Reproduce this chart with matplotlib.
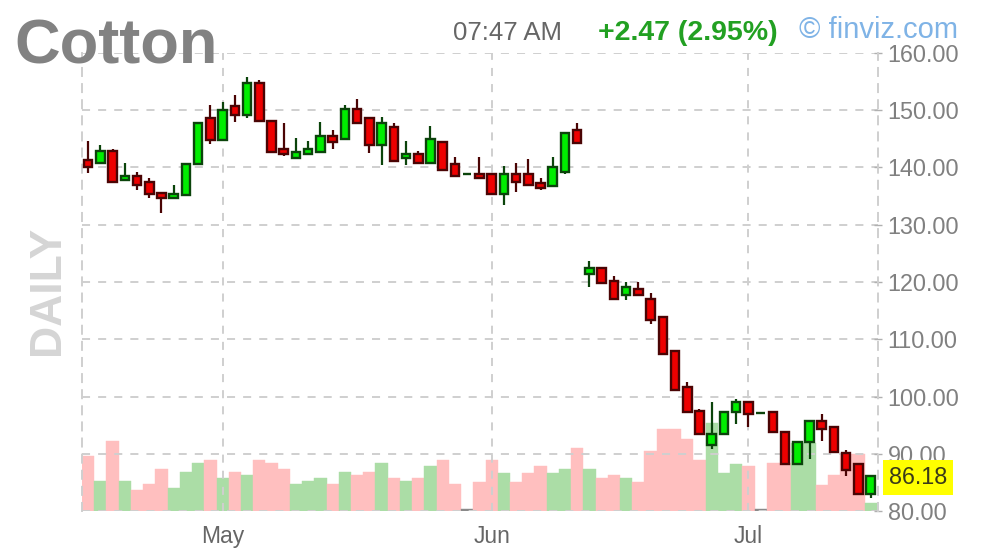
import matplotlib
matplotlib.use('Agg')
import matplotlib.pyplot as plt
from matplotlib.transforms import blended_transform_factory

plt.rcParams['font.family'] = ['Liberation Sans', 'DejaVu Sans']
plt.rcParams['lines.scale_dashes'] = False

# ---------------- data ----------------
title = 'Cotton'
period = 'DAILY'
time_label = '07:47 AM'
change_label = '+2.47 (2.95%)'
brand = '\u00a9 finviz.com'
last_price = 86.18

opens = [141.3, 140.7, 142.85, 137.8, 138.5, 137.5, 135.5, 134.6, 135.2, 140.6,
         148.7, 144.8, 150.8, 149.15, 154.7, 148.2, 143.3, 141.7, 142.3, 142.7,
         145.5, 144.9, 150.3, 148.6, 143.9, 147.1, 141.7, 142.3, 140.7, 144.5,
         140.6, 138.85, 138.95, 138.95, 135.45, 138.95, 138.95, 137.3, 136.7, 139.2,
         146.5, 121.35, 122.5, 120.2, 117.7, 118.7, 117.1, 113.9, 107.9, 101.6,
         97.4, 91.45, 93.5, 97.3, 99.0, 97.15, 97.3, 93.8, 88.25, 92.0,
         95.8, 94.65, 90.1, 88.25, 83.0]
highs = [144.6, 144.0, 143.2, 140.8, 139.2, 138.2, 135.8, 137.0, 140.6, 147.7,
         151.0, 151.5, 152.6, 155.8, 155.3, 148.2, 147.8, 145.1, 144.65, 147.9,
         146.6, 151.0, 152.05, 148.6, 148.85, 147.7, 144.6, 142.85, 147.2, 144.5,
         141.85, 138.85, 141.85, 138.95, 140.2, 140.8, 141.4, 138.1, 141.85, 146.05,
         147.7, 123.7, 122.5, 121.0, 120.0, 120.0, 118.0, 113.9, 107.9, 102.5,
         97.9, 99.0, 97.3, 99.6, 99.0, 97.15, 97.3, 93.8, 92.0, 95.8,
         97.0, 94.65, 90.6, 88.25, 86.18]
lows = [139.0, 140.7, 137.5, 137.8, 136.15, 134.6, 132.0, 134.6, 135.2, 140.6,
        144.1, 144.8, 148.0, 148.6, 148.2, 142.7, 142.0, 141.7, 142.3, 142.7,
        143.15, 144.9, 147.7, 142.55, 140.4, 141.1, 140.4, 140.7, 140.7, 139.5,
        138.5, 138.85, 138.1, 135.45, 133.4, 135.7, 136.9, 136.0, 136.7, 138.8,
        144.3, 119.1, 119.8, 117.1, 116.9, 117.7, 112.6, 107.4, 101.1, 97.3,
        93.5, 90.8, 93.5, 95.2, 94.65, 97.15, 93.8, 88.25, 88.25, 89.1,
        92.3, 90.3, 86.2, 83.0, 82.3]
closes = [140.05, 142.85, 137.5, 138.5, 136.9, 135.45, 134.6, 135.3, 140.6, 147.7,
          144.8, 150.1, 149.15, 154.7, 148.2, 142.7, 142.3, 142.7, 143.2, 145.5,
          144.5, 150.3, 147.7, 143.9, 147.7, 141.1, 142.3, 140.7, 144.9, 139.5,
          138.5, 138.85, 138.1, 135.45, 138.95, 137.5, 136.9, 136.5, 140.1, 146.05,
          144.3, 122.5, 119.8, 117.1, 119.1, 117.7, 113.3, 107.4, 101.1, 97.3,
          93.5, 93.5, 97.3, 99.0, 97.0, 97.15, 93.8, 88.25, 92.0, 95.8,
          94.4, 90.3, 87.1, 83.0, 86.18]
# relative volume (arbitrary units)
volume = [55, 30, 70, 30, 21, 27, 42, 23, 39, 48,
          51, 33, 39, 36, 51, 48, 42, 27, 30, 33,
          27, 39, 36, 39, 48, 33, 30, 33, 45, 51,
          27, 2, 29, 51, 38, 29, 38, 45, 38, 42,
          63, 42, 33, 36, 33, 29, 60, 82, 82, 72,
          51, 88, 38, 47, 45, 2, 48, 48, 68, 68,
          26, 36, 57, 57, 8]
month_ticks = [11, 33, 54]
month_labels = ['May', 'Jun', 'Jul']
price_ticks = [80, 90, 100, 110, 120, 130, 140, 150, 160]

# ---------------- figure ----------------
W, H = 997, 556
fig = plt.figure(figsize=(W / 100, H / 100), dpi=100)


def fx(px):
    return px / W


def fy(py):
    return 1 - py / H


ax = fig.add_axes([fx(82), fy(511), fx(878) - fx(82), fy(53) - fy(511)])
vax = ax.twinx()
ax.set_zorder(vax.get_zorder() + 1)
ax.patch.set_visible(False)

n = len(closes)
xs = list(range(n))

# volume bars
vcols = []
for o, c in zip(opens, closes):
    if c > o:
        vcols.append('#abdda6')
    elif c < o:
        vcols.append('#ffbfbf')
    else:
        vcols.append('#8a8a8a')
vax.bar(xs, volume, width=1.0, color=vcols, edgecolor=vcols, linewidth=0.3)
vax.set_ylim(0, 458)
vax.set_yticks([])
for s in vax.spines.values():
    s.set_visible(False)

# candles
for i in xs:
    o, h, l, c = opens[i], highs[i], lows[i], closes[i]
    if c >= o:
        fill, edge = '#00ee00', '#0b440b'
    else:
        fill, edge = '#ee0000', '#4a0404'
    ax.vlines(i, l, h, color=edge, linewidth=1.6, zorder=3)
    ax.bar(i, abs(c - o), bottom=min(o, c), width=0.7, color=fill,
           edgecolor=edge, linewidth=1.7, zorder=4)

ax.set_xlim(-0.5, 64.6)
ax.set_ylim(80, 160)

# grid
ax.set_yticks(price_ticks)
ax.set_yticklabels([f'{v:.2f}' for v in price_ticks])
ax.set_xticks(month_ticks)
ax.set_xticklabels(month_labels)
ax.grid(True, color='#cfcfcf', linestyle=(0, (5.8, 5.8)), linewidth=1.4, zorder=1)
ax.set_axisbelow(True)

for side in ['top', 'bottom']:
    ax.spines[side].set_visible(False)
for side in ['left', 'right']:
    ax.spines[side].set_linestyle((0, (5.8, 5.8)))
    ax.spines[side].set_color('#cfcfcf')
    ax.spines[side].set_linewidth(1.4)

ax.yaxis.tick_right()
ax.tick_params(axis='y', direction='inout', length=6, width=1, color='#b0b0b0',
               pad=4, labelsize=16.8, labelcolor='#808080')
ax.tick_params(axis='x', length=0, pad=10, labelsize=16.5, labelcolor='#666666')

# last price box
trans = blended_transform_factory(ax.transAxes, ax.transData)
ax.text(1.0135, last_price - 0.3, f'{last_price:.2f}', transform=trans, fontsize=16.8,
        color='#3a3a1a', va='center', ha='left', zorder=6, clip_on=False,
        bbox=dict(boxstyle='square,pad=0.25', facecolor='#ffff00', edgecolor='none'))

# header texts
fig.text(fx(14), fy(63), title, fontsize=45.5, fontweight='bold', color='#828282',
         ha='left', va='baseline')
fig.text(fx(453), fy(40), time_label, fontsize=18.5, color='#666666',
         ha='left', va='baseline')
fig.text(fx(598), fy(40), change_label, fontsize=20.5, fontweight='bold', color='#22a022',
         ha='left', va='baseline')
fig.text(fx(799), fy(38), brand, fontsize=21, color='#7fb3e6',
         ha='left', va='baseline')
fig.text(fx(48), fy(290), period, fontsize=32, fontweight='bold', color='#d5d5d5',
         rotation=90, ha='center', va='center')

fig.savefig('out.png', dpi=100)
